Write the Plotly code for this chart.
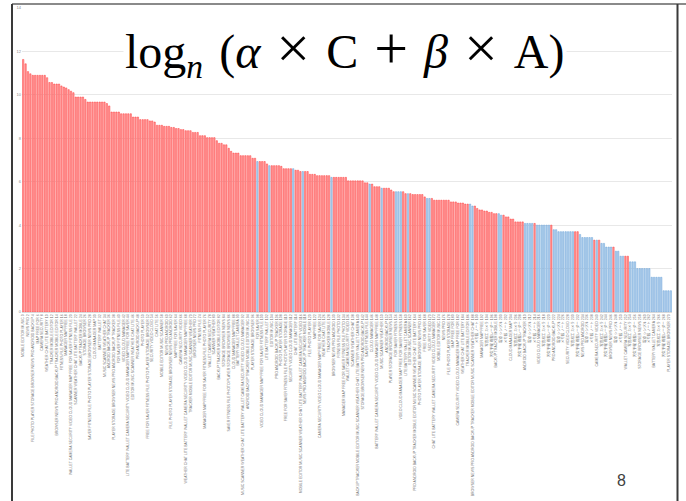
import plotly.graph_objects as go

# ---------------- data ----------------
values = (
    [11.63, 11.43, 11.07, 10.97] + [10.9]*6 + [10.79] + [10.57]*2 + [10.5]*3
    + [10.41, 10.36, 10.32, 10.24, 10.17, 10.1] + [9.9]*4 + [9.79] + [9.67]*8
    + [9.6, 9.49] + [9.21]*4 + [9.13]*5 + [8.98]*3 + [8.86]*4
    + [8.8]*2 + [8.75] + [8.6]*3 + [8.55]*3 + [8.5]*2 + [8.45]*2 + [8.4]*2
    + [8.35]*3 + [8.27]*3 + [8.12]*3 + [8.03]*4 + [7.89] + [7.77]*2 + [7.7]*2
    + [7.54, 7.4] + [7.32]*3 + [7.2]*5 + [7.08]*2 + [6.93]*4 + [6.82] + [6.74]*5
    + [6.71] + [6.6]*5 + [6.53]*2 + [6.47]*4 + [6.34]*3 + [6.28]*6 + [6.2]*7
    + [6.04]*7 + [5.95]*2 + [5.89]*2 + [5.77]*3 + [5.7]*4 + [5.62] + [5.54]*5
    + [5.45]*3 + [5.41]*5 + [5.3] + [5.23]*3 + [5.15]*7 + [5.07]*3 + [5.02]*3
    + [4.97]*3 + [4.88]*2 + [4.77] + [4.7]*2 + [4.65]*2 + [4.59]*2 + [4.53]*3
    + [4.46]*2 + [4.38]*2 + [4.28]*2 + [4.15]*4 + [4.08]*5 + [4.0]*7 + [3.79]*2
    + [3.7]*9 + [3.57] + [3.43]*5 + [3.31]*3 + [3.16]*2 + [2.99]*4 + [2.8]*2
    + [2.57]*4 + [2.31]*3 + [2.0]*6 + [1.6]*5 + [0.98]*4
)

# indices of the bars drawn in blue (all others are red)
blue_bars = [98, 103, 113, 117, 129, 145, 150, 156, 157, 158, 161, 169, 170,
             187, 188, 199, 200, 210, 211, 212, 213, 215, 216, 217, 218, 219, 220,
             222, 223, 224, 225, 226, 227, 228, 229, 230,
             233, 234, 235, 236, 237, 238, 240, 242, 243, 244, 245, 246,
             248, 249, 250, 251, 254, 255, 256, 257, 258, 259, 260, 261, 262,
             263, 264, 265, 266, 267, 268, 269, 270, 271]

y_ticks = [0, 2, 4, 6, 8, 10, 12, 14]

# category names (illegible in the picture: placeholder names of similar length/script)
en_words = ["MOBILE", "SECURITY", "PHOTO", "EDITOR", "VIDEO", "PLAYER", "MUSIC",
            "CLOUD", "STORAGE", "SCANNER", "MANAGER", "BROWSER", "WEATHER", "MAP",
            "NEWS", "CHAT", "FREE", "PRO", "LITE", "FOR", "ANDROID", "BATTERY",
            "SAVER", "BACKUP", "WALLET", "FITNESS", "TRACKER", "CAMERA", "FILE"]
word_counts = [3, 6, 2, 5, 9, 4, 3, 7, 2, 5, 4, 10, 3, 6, 8, 2, 4, 7, 3, 5, 12, 4, 6, 3]
ja_names = ["監視カメラ 防犯アプリ", "無料通話・チャット", "写真加工 カメラ", "家計簿アプリ",
            "天気予報 雨雲レーダー", "乗換案内 時刻表 運行情報", "ニュース", "音楽プレーヤー 無料",
            "電卓 シンプル", "翻訳アプリ 英語 辞書", "メモ帳 ノート", "動画編集アプリ"]

N = len(values)
labels = []
for i in range(N):
    if i >= 190 and i % 3 != 0:
        labels.append(ja_names[i % len(ja_names)] + " " + str(i))
    else:
        k = word_counts[i % len(word_counts)]
        labels.append(" ".join(en_words[(i * 7 + j * 3) % len(en_words)] for j in range(k)) + " " + str(i))

# ---------------- figure ----------------
W, H = 686, 501
L, R, T, B = 22, 672, 8, 312  # plot area in pixels


def px(x):
    return (x - L) / (R - L)


def py(y):
    return (B - y) / (B - T)


xs = list(range(N))
fill = ["#B4D1EE" if i in blue_bars else "#FF9C9C" for i in xs]
edge = ["#5B9BD5" if i in blue_bars else "#FF2E2E" for i in xs]

fig = go.Figure(go.Bar(
    x=xs, y=values,
    marker=dict(color=fill, line=dict(color=edge, width=0.45)),
    hoverinfo="skip",
))

fig.update_layout(
    width=W, height=H,
    margin=dict(l=L, r=W - R, t=T, b=H - B, pad=0),
    paper_bgcolor="white", plot_bgcolor="white",
    bargap=0.42, showlegend=False,
    font=dict(family="Liberation Sans, Noto Sans CJK JP", color="#595959"),
)

fig.update_xaxes(
    range=[-0.5, N - 0.5],
    tickmode="array", tickvals=xs[::2], ticktext=labels[::2],
    tickangle=-90, tickfont=dict(size=3.5, color="#707070",
                                 family="Liberation Sans, Noto Sans CJK JP"),
    ticks="", showgrid=False, zeroline=False,
    showline=True, linecolor="#d9d9d9", linewidth=1, automargin=False,
)
fig.update_yaxes(
    range=[0, 14], tickmode="array", tickvals=y_ticks,
    tickfont=dict(size=4, color="#8c8c8c"),
    showgrid=True, gridcolor="#e8e8e8", gridwidth=1,
    zeroline=False, showline=False, ticks="", automargin=False,
)

# slide frame
fig.add_shape(type="line", xref="paper", yref="paper",
              x0=px(12), x1=px(686), y0=py(4), y1=py(4),
              line=dict(color="#8a8a8a", width=2))
fig.add_shape(type="line", xref="paper", yref="paper",
              x0=px(12), x1=px(12), y0=py(4), y1=py(501),
              line=dict(color="#3a3a3a", width=2))
fig.add_shape(type="line", xref="paper", yref="paper",
              x0=px(677.5), x1=px(677.5), y0=py(4), y1=py(501),
              line=dict(color="#3a3a3a", width=2))

# slide title
sp = "\u2004"
op = '<span style="font-size:60px">{}</span>'
title = ("log<sub><i>n</i></sub>" + sp + "(<i>α</i>" + sp + op.format("×") + sp + "C" + sp
         + op.format("+") + sp + "<i>β</i>" + sp + op.format("×") + sp + "A)")
fig.add_annotation(
    xref="paper", yref="paper", x=px(345), y=py(50),
    xanchor="center", yanchor="middle", showarrow=False,
    text=title,
    font=dict(family="Liberation Serif", size=48, color="black"),
    bgcolor="white",
)

# page number
fig.add_annotation(
    xref="paper", yref="paper", x=px(621), y=py(480),
    xanchor="center", yanchor="middle", showarrow=False,
    text="8", font=dict(family="Liberation Sans", size=16, color="#404040"),
)

fig.write_html("out.html", config={"displayModeBar": False},
               post_script="document.body.style.margin='0px';")
